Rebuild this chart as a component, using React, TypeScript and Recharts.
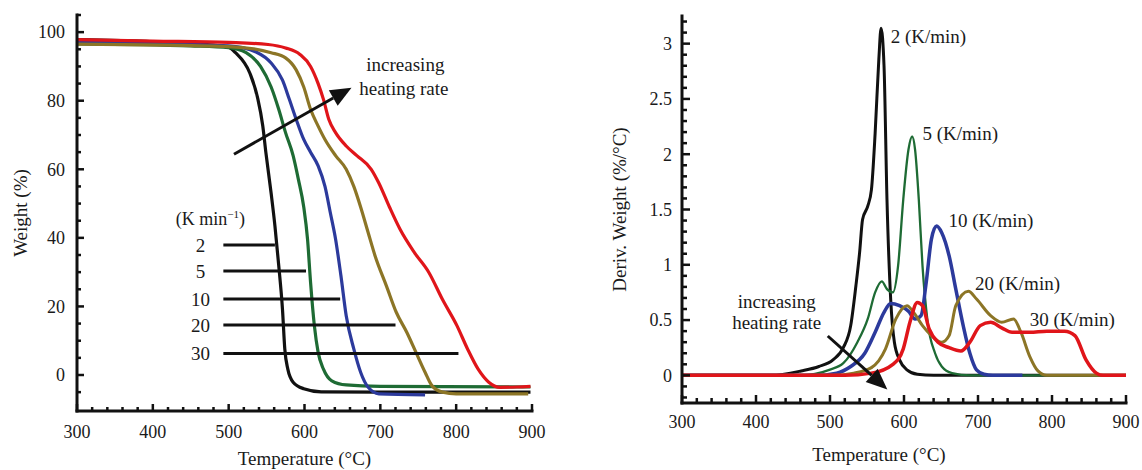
import React from 'react'
import { LineChart, Line, XAxis, YAxis, ReferenceLine, ReferenceDot } from 'recharts'

type Pt = [number, number]

const FONT = 'Liberation Serif, Times New Roman, serif'
const INK = '#1a1a1a'
const txt = { fontFamily: FONT }

const rates = ['2', '5', '10', '20', '30']
const colors = ['#111111', '#1e6b34', '#2c3a9c', '#8c7526', '#e0151a']

// TGA weight (%) vs temperature (°C)
const tga2: Pt[] = [[300, 97.8], [400, 97.2], [480, 96.2], [500, 95.6], [509, 94], [528, 88], [538, 81], [545, 72.6], [549, 65], [556, 53], [561, 43.5], [566, 32], [571, 19], [574, 7.6], [578, 1.7], [585, -2.1], [599, -4], [622, -4.9], [700, -5], [898, -5]]
const tga5: Pt[] = [[300, 96.6], [450, 96], [500, 95.5], [523, 94], [542, 90], [556, 84], [566, 77.5], [575, 70.7], [585, 64], [592, 57], [599, 49], [604, 39.6], [608, 27], [613, 14.4], [618, 6.6], [625, 1.7], [636, -1.7], [655, -2.9], [700, -3.3], [898, -3.5]]
const tga10: Pt[] = [[300, 97], [500, 96], [538, 94], [556, 91], [571, 86], [580, 80.4], [589, 74.6], [599, 68.7], [608, 65], [618, 61], [627, 55], [634, 47.4], [641, 39.6], [648, 29], [655, 17.3], [665, 7.6], [674, 0.8], [684, -3.6], [698, -5.5], [759, -5.8]]
const tga20: Pt[] = [[300, 96.5], [500, 95.8], [556, 94], [575, 92.5], [589, 89], [599, 84], [608, 77.5], [618, 72.6], [627, 68.7], [641, 64], [655, 60], [665, 55], [674, 49], [684, 41.5], [693, 34.8], [708, 26], [721, 18.3], [735, 12.4], [747, 6.6], [759, 0.8], [768, -3.1], [782, -5], [800, -5.5], [895, -5.5]]
const tga30: Pt[] = [[300, 97.8], [400, 97.4], [500, 97], [552, 96.4], [575, 95.4], [594, 93.5], [608, 90], [618, 85], [625, 80.4], [632, 74.6], [641, 70.7], [655, 66.8], [669, 64], [688, 60], [698, 56], [712, 49], [726, 42.5], [745, 35.7], [764, 29.9], [782, 22], [801, 14.4], [815, 7.6], [829, 1.7], [843, -2.1], [858, -3.6], [880, -3.5], [898, -3.3]]

// DTG deriv. weight (%/°C) vs temperature (°C)
const dtg2: Pt[] = [[300, 0], [420, 0], [461, 0.04], [485, 0.08], [504, 0.14], [518, 0.25], [528, 0.45], [535, 0.81], [540, 1.11], [544, 1.41], [551, 1.53], [556, 1.68], [561, 2.19], [566, 2.86], [569, 3.14], [573, 2.8], [577, 1.59], [582, 0.69], [587, 0.3], [594, 0.14], [604, 0.05], [618, 0.01], [640, 0], [900, 0]]
const dtg5: Pt[] = [[300, 0], [461, 0], [499, 0.05], [518, 0.11], [537, 0.3], [551, 0.51], [561, 0.75], [570, 0.85], [577, 0.78], [585, 0.75], [592, 0.99], [599, 1.59], [606, 2.04], [611, 2.16], [615, 2.04], [620, 1.59], [625, 0.99], [632, 0.48], [642, 0.2], [651, 0.08], [665, 0.02], [690, 0], [900, 0]]
const dtg10: Pt[] = [[300, 0], [480, 0], [509, 0.02], [528, 0.08], [547, 0.2], [561, 0.39], [573, 0.57], [582, 0.65], [594, 0.63], [606, 0.58], [615, 0.51], [623, 0.54], [630, 0.84], [637, 1.23], [644, 1.35], [651, 1.29], [661, 1.08], [670, 0.78], [680, 0.45], [689, 0.2], [698, 0.05], [708, 0.01], [720, 0], [760, 0]]
const dtg20: Pt[] = [[300, 0], [500, 0], [532, 0.02], [556, 0.07], [575, 0.24], [589, 0.51], [604, 0.63], [613, 0.57], [625, 0.45], [637, 0.36], [651, 0.3], [661, 0.36], [670, 0.63], [687, 0.76], [698, 0.69], [717, 0.54], [732, 0.48], [748, 0.51], [758, 0.39], [770, 0.17], [781, 0.04], [793, 0], [900, 0]]
const dtg30: Pt[] = [[300, 0], [520, 0], [556, 0.02], [585, 0.1], [599, 0.24], [608, 0.48], [618, 0.66], [625, 0.63], [634, 0.42], [646, 0.3], [661, 0.25], [677, 0.22], [689, 0.3], [703, 0.45], [717, 0.48], [732, 0.43], [746, 0.39], [770, 0.39], [793, 0.4], [817, 0.4], [831, 0.36], [846, 0.14], [860, 0.02], [869, 0], [900, 0]]

const tgaSeries = [tga2, tga5, tga10, tga20, tga30]
const dtgSeries = [dtg2, dtg5, dtg10, dtg20, dtg30]
const dtgWidths = [3, 2.3, 3.5, 3, 3.5]

// inline legend of the TGA panel: row height (%) and right end of each black bar (°C)
const legendRowY = [37.9, 30.3, 22.2, 14.6, 6.3]
const legendBarEnd = [561, 602, 647, 720, 803]
const legendBarStart = 493
const legendLabelX = 463

// peak labels of the DTG panel (left edge, °C / %/°C)
const peakLabelX = [582, 625, 660, 696, 770]
const peakLabelY = [3.07, 2.19, 1.4, 0.83, 0.51]

const tempTicks = Array.from({ length: 31 }, (_, i) => 300 + i * 20)
const weightTicks = Array.from({ length: 23 }, (_, i) => -5 + i * 5)
const derivTicks = Array.from({ length: 35 }, (_, i) => Math.round((-0.2 + i * 0.1) * 10) / 10)

const rows = (pts: Pt[]) => pts.map(([t, v]) => ({ t, v }))

const frame = { stroke: '#111', strokeWidth: 3, strokeLinecap: 'square' as const }

function makeXTick(gap: number, major: number, minor: number) {
  return function XTick({ x, y, payload }: any) {
    const v = payload.value
    const isMajor = v % 100 === 0
    return (
      <g>
        <line x1={x} x2={x} y1={y} y2={y - (isMajor ? major : minor)} stroke="#111" strokeWidth={2.5} />
        {isMajor && (
          <text x={x} y={y + gap} dy="0.35em" textAnchor="middle" style={txt} fontSize={18} fill={INK}>{v}</text>
        )}
      </g>
    )
  }
}

function makeYTick(isMajor: (v: number) => boolean, gap: number, major: number, minor: number) {
  return function YTick({ x, y, payload }: any) {
    const v = payload.value
    const m = isMajor(v)
    return (
      <g>
        <line x1={x} x2={x + (m ? major : minor)} y1={y} y2={y} stroke="#111" strokeWidth={2.5} />
        {m && (
          <text x={x - gap} y={y} dy="0.35em" textAnchor="end" style={txt} fontSize={18} fill={INK}>{v}</text>
        )}
      </g>
    )
  }
}

function Note({ viewBox, caption, anchor = 'middle' }: any) {
  return (
    <text x={viewBox.x} y={viewBox.y} dy="0.35em" textAnchor={anchor} style={txt} fontSize={19} fill={INK}>
      {caption}
    </text>
  )
}

function UnitHeader({ viewBox }: any) {
  return (
    <text x={viewBox.x} y={viewBox.y} dy="0.35em" textAnchor="middle" style={txt} fontSize={18} fill={INK}>
      (K min<tspan dy={-7} fontSize={11}>−1</tspan><tspan dy={7}>)</tspan>
    </text>
  )
}

function ArrowShape({ x1, y1, x2, y2 }: any) {
  const a = Math.atan2(y2 - y1, x2 - x1)
  const L = 21
  const W = 9
  const bx = x2 - L * Math.cos(a)
  const by = y2 - L * Math.sin(a)
  const pts = `${x2},${y2} ${bx + W * Math.sin(a)},${by - W * Math.cos(a)} ${bx - W * Math.sin(a)},${by + W * Math.cos(a)}`
  return (
    <g>
      <line x1={x1} y1={y1} x2={bx} y2={by} stroke="#111" strokeWidth={3} />
      <polygon points={pts} fill="#111" />
    </g>
  )
}

function xTitle(dx: number, dyFromAxis: number) {
  return ({ viewBox }: any) => (
    <text x={viewBox.x + viewBox.width / 2 + dx} y={viewBox.y + dyFromAxis} dy="0.35em" textAnchor="middle" style={txt} fontSize={19} fill={INK}>
      Temperature (°C)
    </text>
  )
}

function yTitle(text: string, xPos: number) {
  return ({ viewBox }: any) => {
    const cy = viewBox.y + viewBox.height / 2
    return (
      <text x={xPos} y={cy} dy="0.35em" transform={`rotate(-90 ${xPos} ${cy})`} textAnchor="middle" style={txt} fontSize={19} fill={INK}>
        {text}
      </text>
    )
  }
}

function TgaChart() {
  return (
    <LineChart width={570} height={470} margin={{ top: 15, right: 38, bottom: 0, left: 0 }}>
      <XAxis dataKey="t" type="number" domain={[300, 900]} allowDataOverflow ticks={tempTicks} interval={0}
        tickSize={0} tickMargin={0} tickLine={false} axisLine={frame} height={59}
        tick={makeXTick(21, 7, 4)} label={{ content: xTitle(0, 47) }} />
      <XAxis xAxisId="top" orientation="top" type="number" domain={[300, 900]} height={0} tick={false} tickLine={false} axisLine={frame} />
      <YAxis type="number" domain={[-10.5, 105]} allowDataOverflow ticks={weightTicks} interval={0}
        tickSize={0} tickMargin={0} tickLine={false} axisLine={frame} width={77}
        tick={makeYTick((v) => v >= 0 && v <= 100 && v % 20 === 0, 12, 7, 4)}
        label={{ content: yTitle('Weight (%)', 20) }} />
      <YAxis yAxisId="right" orientation="right" type="number" domain={[-10.5, 105]} width={0} tick={false} tickLine={false} axisLine={frame} />
      {tgaSeries.map((s, i) => (
        <Line key={rates[i]} data={rows(s)} dataKey="v" type="monotone" stroke={colors[i]} strokeWidth={3.2}
          dot={false} activeDot={false} isAnimationActive={false} />
      ))}
      {legendRowY.map((y, i) => (
        <ReferenceLine key={'bar' + i} segment={[{ x: legendBarStart, y }, { x: legendBarEnd[i], y }]} stroke="#111" strokeWidth={3} />
      ))}
      {legendRowY.map((y, i) => (
        <ReferenceDot key={'lab' + i} x={legendLabelX} y={y} r={0} fill="none" stroke="none"
          label={<Note caption={rates[i]} />} />
      ))}
      <ReferenceDot x={476} y={45.7} r={0} fill="none" stroke="none" label={<UnitHeader />} />
      <ReferenceLine segment={[{ x: 507, y: 64.4 }, { x: 662, y: 83.8 }]} shape={ArrowShape} />
      <ReferenceDot x={733} y={90.6} r={0} fill="none" stroke="none" label={<Note caption="increasing" />} />
      <ReferenceDot x={731} y={83.5} r={0} fill="none" stroke="none" label={<Note caption="heating rate" />} />
    </LineChart>
  )
}

function DtgChart() {
  return (
    <LineChart width={552} height={470} margin={{ top: 16, right: 16, bottom: 0, left: 0 }}>
      <XAxis dataKey="t" type="number" domain={[300, 900]} allowDataOverflow ticks={tempTicks} interval={0}
        tickSize={0} tickMargin={0} tickLine={false} axisLine={frame} height={67}
        tick={makeXTick(19, 8, 5)} label={{ content: xTitle(-25, 51) }} />
      <XAxis xAxisId="top" orientation="top" type="number" domain={[300, 900]} height={0} tick={false} tickLine={false} axisLine={frame} />
      <YAxis type="number" domain={[-0.25, 3.25]} allowDataOverflow ticks={derivTicks} interval={0}
        tickSize={0} tickMargin={0} tickLine={false} axisLine={frame} width={92}
        tick={makeYTick((v) => v >= 0 && Math.abs(v * 2 - Math.round(v * 2)) < 1e-6, 10, 8, 5)}
        label={{ content: yTitle('Deriv. Weight (%/°C)', 29) }} />
      <YAxis yAxisId="right" orientation="right" type="number" domain={[-0.25, 3.25]} width={0} tick={false} tickLine={false} axisLine={frame} />
      {dtgSeries.map((s, i) => (
        <Line key={rates[i]} data={rows(s)} dataKey="v" type="monotone" stroke={colors[i]} strokeWidth={dtgWidths[i]}
          dot={false} activeDot={false} isAnimationActive={false} />
      ))}
      {peakLabelX.map((x, i) => (
        <ReferenceDot key={'pk' + i} x={x} y={peakLabelY[i]} r={0} fill="none" stroke="none"
          label={<Note caption={`${rates[i]} (K/min)`} anchor="start" />} />
      ))}
      <ReferenceDot x={428} y={0.672} r={0} fill="none" stroke="none" label={<Note caption="increasing" />} />
      <ReferenceDot x={428} y={0.476} r={0} fill="none" stroke="none" label={<Note caption="heating rate" />} />
      <ReferenceLine segment={[{ x: 497, y: 0.356 }, { x: 577.5, y: -0.127 }]} shape={ArrowShape} />
    </LineChart>
  )
}

export default function App() {
  return (
    <div style={{ position: 'absolute', left: 0, top: 0, width: 1142, height: 470, background: '#fff' }}>
      <div style={{ position: 'absolute', left: 0, top: 0 }}>
        <TgaChart />
      </div>
      <div style={{ position: 'absolute', left: 590, top: 0 }}>
        <DtgChart />
      </div>
    </div>
  )
}
